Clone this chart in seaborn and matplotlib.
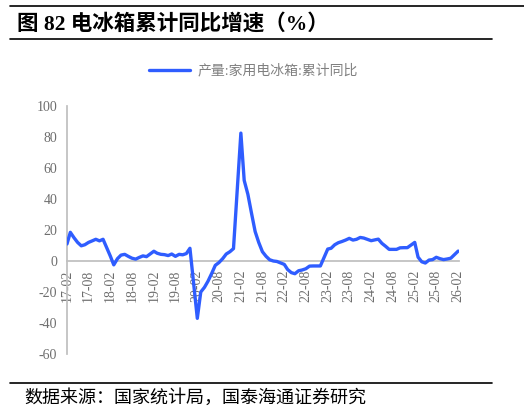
import matplotlib
matplotlib.use("Agg")
import matplotlib.pyplot as plt
import matplotlib.dates as mdates
from matplotlib.lines import Line2D
import seaborn as sns
import pandas as pd

# 产量:家用电冰箱:累计同比 (%)，每年2月-12月（1月无单独数据）
v2017 = [11, 18.5, 15, 12, 9.8, 10.5, 12, 13, 14, 13, 14]
v2018 = [3, -2.5, 1.5, 3.8, 4.3, 3, 1.8, 1.2, 2.3, 3.3, 2.8]
v2019 = [6.3, 5, 4.3, 4.1, 3.5, 4.5, 3, 4.3, 4, 4.8, 8.2]
v2020 = [-37, -20, -17, -13, -8, -2.8, -1, 1.5, 4.5, 6, 8]
v2021 = [82.5, 52, 43, 31, 19, 12, 6, 3, 0.8, 0, -0.3]
v2022 = [-2.2, -5.5, -7.5, -8.2, -6.3, -5.8, -5, -3.3, -3.2, -3.2, -3.2]
v2023 = [7.7, 8.2, 10.5, 11.8, 12.6, 13.5, 14.6, 13.5, 14, 15.2, 14.8]
v2024 = [13.1, 13.6, 14.1, 11.4, 9.5, 7.5, 7.5, 7.5, 8.5, 8.6, 8.6]
v2025 = [12, 2.5, -0.5, -1.3, 0.6, 0.9, 2.4, 1.5, 0.9, 1.3, 1.8]
v2026 = [6.4]

years = {2017: v2017, 2018: v2018, 2019: v2019, 2020: v2020, 2021: v2021,
         2022: v2022, 2023: v2023, 2024: v2024, 2025: v2025, 2026: v2026}
rows = []
for yr, vals in years.items():
    for i, v in enumerate(vals):
        rows.append((pd.Timestamp(yr, i + 2, 1), v))
df = pd.DataFrame(rows, columns=["date", "value"])

series_name = "产量:家用电冰箱:累计同比"
title = "图 82 电冰箱累计同比增速（%）"
source = "数据来源：国家统计局，国泰海通证券研究"

sns.set_theme(style="white")
plt.rcParams["font.family"] = ["Liberation Serif", "Noto Sans CJK SC", "DejaVu Sans"]
plt.rcParams["axes.unicode_minus"] = False

W, H = 524, 412
fig = plt.figure(figsize=(W / 100, H / 100), dpi=100)
ax = fig.add_axes([67 / W, 1 - 354 / H, (459 - 67) / W, (354 - 106) / H])

sns.lineplot(data=df, x="date", y="value", ax=ax, color="#2F5DFF",
             linewidth=2.4, label=series_name, zorder=3)

ax.set_ylim(-60, 100)
ax.set_yticks(range(-60, 101, 20))
ax.set_xlim(pd.Timestamp(2017, 2, 1), pd.Timestamp(2026, 2, 8))
ax.xaxis.set_major_locator(mdates.MonthLocator(bymonth=[2, 8]))
ax.xaxis.set_major_formatter(mdates.DateFormatter("%y-%m"))
ax.set_xlabel("")
ax.set_ylabel("")

for s in ["top", "right"]:
    ax.spines[s].set_visible(False)
ax.spines["left"].set_color("#BFBFBF")
ax.spines["bottom"].set_color("#BFBFBF")
ax.spines["bottom"].set_position(("data", 0))
ax.spines["bottom"].set_zorder(1)

ax.tick_params(axis="both", colors="#BFBFBF", labelcolor="#6E6E6E",
               labelsize=10, length=4, width=0.8, direction="out")
ax.tick_params(axis="x", pad=2)
ax.tick_params(axis="y", pad=3)
plt.setp(ax.get_xticklabels(), rotation=90)

leg = ax.legend(loc="center", bbox_to_anchor=(253 / W, 1 - 71 / H),
                bbox_transform=fig.transFigure, frameon=False, fontsize=10,
                handlelength=3.0, handletextpad=0.5)
for t in leg.get_texts():
    t.set_color("#808080")

fig.add_artist(Line2D([10 / W, 1.0], [1 - 6 / H] * 2, color="black", lw=1.2))
fig.add_artist(Line2D([10 / W, 492 / W], [1 - 39 / H] * 2, color="black", lw=1.2))
fig.add_artist(Line2D([10 / W, 492 / W], [1 - 383 / H] * 2, color="black", lw=1.2))

fig.text(17 / W, 1 - 24 / H, title, fontsize=15.5, fontweight="bold",
         va="center", ha="left", color="black")
fig.text(24 / W, 1 - 398 / H, source, fontsize=13, va="center", ha="left",
         color="black")

fig.savefig("out.png", dpi=100)
